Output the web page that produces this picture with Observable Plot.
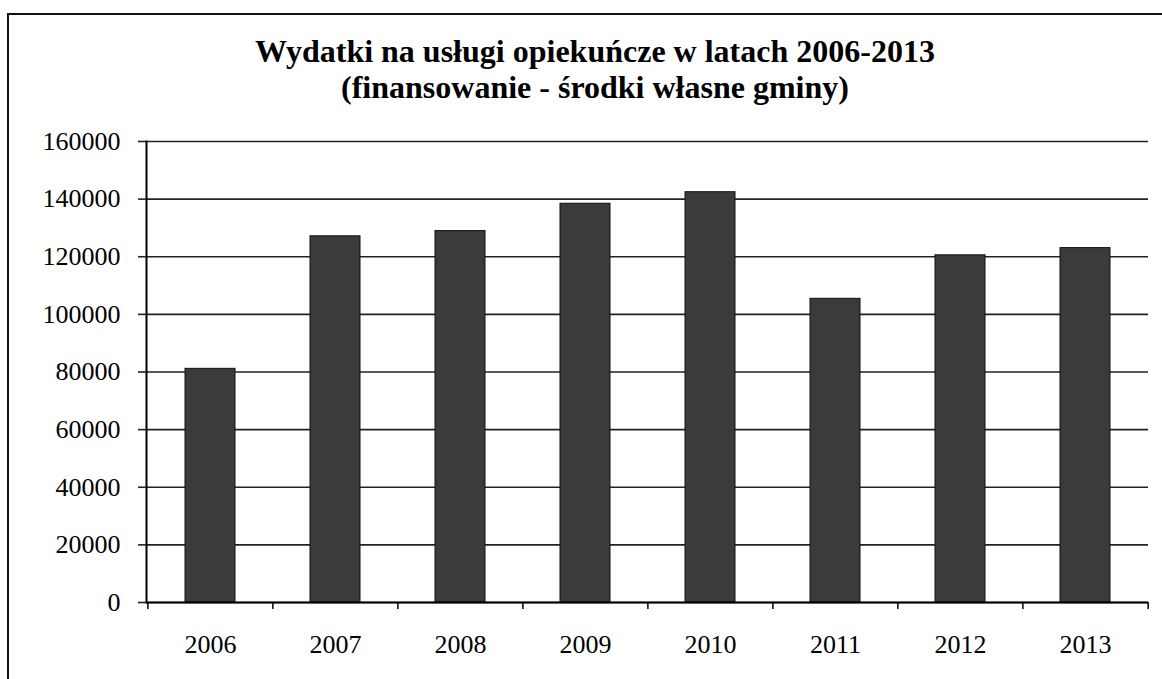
<!DOCTYPE html>
<html>
<head>
<meta charset="utf-8">
<script src="https://cdn.jsdelivr.net/npm/d3@7"></script>
<script src="https://cdn.jsdelivr.net/npm/@observablehq/plot@0.6"></script>
<style>
  html, body { margin: 0; padding: 0; background: #fff; }
  body { width: 1162px; height: 679px; position: relative; overflow: hidden; font-family: 'Liberation Serif', serif; }
  #border { position: absolute; left: 7px; top: 13px; width: 1170px; height: 700px; border: 2px solid #111; box-sizing: border-box; }
  #title { position: absolute; left: 0; top: 33px; width: 1190px; text-align: center; font-family: 'Liberation Serif', serif; font-weight: bold; font-size: 32px; line-height: 36px; color: #000; }
  #chart { position: absolute; left: 0; top: 120px; }
  #chart svg text { font-family: 'Liberation Serif', serif; }
</style>
</head>
<body>
<div id="border"></div>
<div id="title">Wydatki na usługi opiekuńcze w latach 2006-2013<br>(finansowanie - środki własne gminy)</div>
<div id="chart"></div>
<script>
const years = ["2006", "2007", "2008", "2009", "2010", "2011", "2012", "2013"];
const expenses = [81100, 127100, 128900, 138400, 142400, 105400, 120500, 123000];
const yTicks = [0, 20000, 40000, 60000, 80000, 100000, 120000, 140000, 160000];

const data = years.map((y, i) => ({year: y, value: expenses[i]}));

const W = 1162, H = 540, ML = 146, MR = 14, MT = 21, MB = 58;
const step = (W - ML - MR) / years.length;
const FONT = "'Liberation Serif', serif";

const chart = Plot.plot({
  width: W,
  height: H,
  marginLeft: ML,
  marginRight: MR,
  marginTop: MT,
  marginBottom: MB,
  style: {fontFamily: FONT, fontSize: "26px", color: "#000", background: "transparent", overflow: "visible"},
  x: {domain: years, paddingInner: 0.6, paddingOuter: 0.3, label: null},
  y: {domain: [0, 160000], ticks: yTicks, label: null},
  marks: [
    Plot.ruleY(yTicks, {stroke: "#222", strokeWidth: 1.6}),
    Plot.barY(data, {x: "year", y: "value", fill: "#3b3b3b", stroke: "#111", strokeWidth: 1}),
    Plot.frame({anchor: "left", stroke: "#000", strokeWidth: 2}),
    Plot.ruleY([0], {stroke: "#000", strokeWidth: 2}),
    Plot.axisY({ticks: yTicks, tickSize: 8, tickPadding: 18, tickFormat: d => String(d), fontSize: 26, fontFamily: FONT, stroke: "#222", strokeWidth: 1.6, label: null}),
    Plot.axisX({tickSize: 7, tickFormat: () => "", dx: -step / 2, stroke: "#000", strokeWidth: 1.5, label: null}),
    Plot.axisX({ticks: [years[years.length - 1]], tickSize: 7, tickFormat: () => "", dx: step / 2, stroke: "#000", strokeWidth: 1.5, label: null}),
    Plot.axisX({tickSize: 0, tickPadding: 32, fontSize: 26, fontFamily: FONT, label: null})
  ]
});
document.getElementById("chart").appendChild(chart);
</script>
</body>
</html>
